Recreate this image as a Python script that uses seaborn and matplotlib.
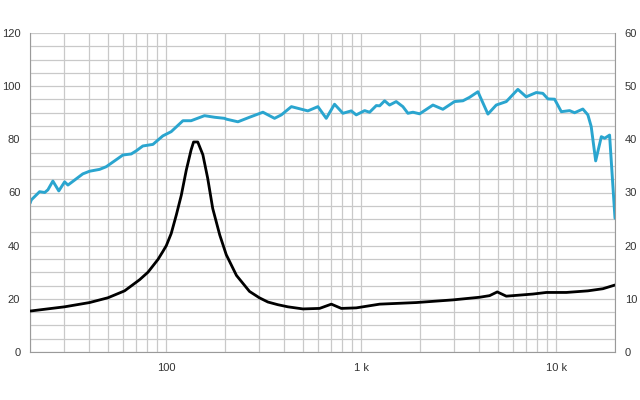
import matplotlib
matplotlib.use("Agg")
import matplotlib.pyplot as plt
import matplotlib.ticker as mticker
import seaborn as sns
import pandas as pd

# SPL response (left axis, dB)
spl_freq = [20, 20.3, 22.4, 23.8, 24.7, 26.2, 28.1, 30.1, 31.3, 33.9, 37.3, 40.4, 45.5, 49.2,
            54.3, 59.9, 66.1, 70.2, 75.8, 85.4, 96, 106, 121.7, 134, 157, 177, 199, 203, 233,
            267, 313, 359, 389, 438, 532, 599, 661, 729, 805, 888, 942, 1040, 1103, 1194,
            1242, 1317, 1396, 1510, 1634, 1734, 1840, 1991, 2330, 2620, 3006, 3320, 3590,
            3963, 4460, 4920, 5540, 6350, 7010, 7890, 8530, 9060, 9800, 10610, 11700, 12410,
            13680, 14520, 15100, 15920, 17020, 17700, 18760, 20000]
spl_db = [55.9, 57.2, 60.3, 60.0, 61.0, 64.3, 60.6, 64.0, 62.8, 64.7, 67.0, 68.0, 68.7, 69.7,
          71.9, 74.1, 74.5, 75.7, 77.5, 78.1, 81.3, 82.9, 87.0, 87.0, 88.9, 88.3, 87.9, 87.6, 86.6,
          88.3, 90.2, 87.9, 89.2, 92.3, 90.7, 92.3, 87.9, 93.2, 89.8, 90.7, 89.2, 90.8, 90.2, 92.7,
          92.6, 94.5, 92.9, 94.2, 92.3, 89.8, 90.2, 89.6, 92.9, 91.3, 94.2, 94.5, 95.8,
          97.9, 89.5, 92.9, 94.2, 98.8, 96.0, 97.6, 97.3, 95.2, 95.1, 90.4, 90.8, 90.0,
          91.4, 89.2, 84.8, 71.9, 81.0, 80.4, 81.6, 50.3]

# Impedance (right axis, ohm)
imp_freq = [20, 30.1, 40.4, 50.2, 61.1, 73, 80.5, 85.4, 90.6, 96, 100, 106, 112.6, 119.4,
            126.6, 134, 138, 145, 154, 163, 173, 188, 203, 229, 267, 300, 332, 373, 420, 502,
            611, 702, 790, 942, 1242, 1914, 2950, 4045, 4550, 4980, 5540, 7590, 8890, 11250,
            14520, 17340, 20000]
imp_ohm = [7.7, 8.5, 9.3, 10.2, 11.5, 13.6, 15.0, 16.2, 17.4, 18.9, 20.0, 22.3, 25.8, 29.5,
           34.2, 38.0, 39.5, 39.5, 37.1, 32.7, 27.0, 22.0, 18.3, 14.4, 11.4, 10.2, 9.4, 8.9, 8.5,
           8.1, 8.2, 9.0, 8.2, 8.3, 9.0, 9.3, 9.8, 10.3, 10.6, 11.3, 10.5, 10.9, 11.2, 11.2,
           11.5, 11.9, 12.6]

left_ticks = [0, 20, 40, 60, 80, 100, 120]
right_ticks = [0, 10, 20, 30, 40, 50, 60]
x_ticks = [100, 1000, 10000]
x_labels = ["100", "1 k", "10 k"]

sns.set_style("white")
plt.rcParams["font.family"] = ["Liberation Sans", "DejaVu Sans"]

fig = plt.figure(figsize=(6.4, 4.0), dpi=100)
ax = fig.add_axes([30 / 640, 48 / 400, 585 / 640, 319 / 400])
ax2 = ax.twinx()

grid_c = "#c9c9c9"
spine_c = "#9a9a9a"
text_c = "#333333"

ax.set_xscale("log")
ax.set_xlim(20, 20000)
ax.set_ylim(0, 120)
ax2.set_ylim(0, 60)

ax.xaxis.set_major_locator(mticker.FixedLocator(x_ticks))
ax.xaxis.set_major_formatter(mticker.FixedFormatter(x_labels))
minor = [m * d for d in (10, 100, 1000, 10000) for m in range(2, 10) if 20 <= m * d <= 20000]
ax.xaxis.set_minor_locator(mticker.FixedLocator(minor))
ax.xaxis.set_minor_formatter(mticker.NullFormatter())
ax.set_yticks(left_ticks)
ax.yaxis.set_minor_locator(mticker.MultipleLocator(5))
ax2.set_yticks(right_ticks)

ax.grid(True, which="both", axis="both", color=grid_c, linewidth=0.9)
ax.set_axisbelow(True)

for a in (ax, ax2):
    for s in a.spines.values():
        s.set_visible(False)
ax.spines["left"].set_visible(True)
ax.spines["left"].set_color(spine_c)
ax.spines["bottom"].set_visible(True)
ax.spines["bottom"].set_color(spine_c)
ax2.spines["right"].set_visible(True)
ax2.spines["right"].set_color(spine_c)

ax.tick_params(axis="x", which="major", length=3, color=spine_c, pad=5, labelsize=8, labelcolor=text_c)
ax.tick_params(axis="x", which="minor", length=0)
ax.tick_params(axis="y", which="both", length=0, pad=7, labelsize=8, labelcolor=text_c)
ax2.tick_params(axis="y", which="both", length=0, pad=7, labelsize=8, labelcolor=text_c)

spl_df = pd.DataFrame({"f": spl_freq, "v": spl_db})
imp_df = pd.DataFrame({"f": imp_freq, "v": imp_ohm})
sns.lineplot(data=spl_df, x="f", y="v", ax=ax, color="#2aa5cf", linewidth=2.1, sort=False)
sns.lineplot(data=imp_df, x="f", y="v", ax=ax2, color="#000000", linewidth=2.0, sort=False)

ax.set_xlabel("")
ax.set_ylabel("")
ax2.set_ylabel("")
ax.set_xlim(20, 20000)

fig.savefig("out.png", dpi=100)
